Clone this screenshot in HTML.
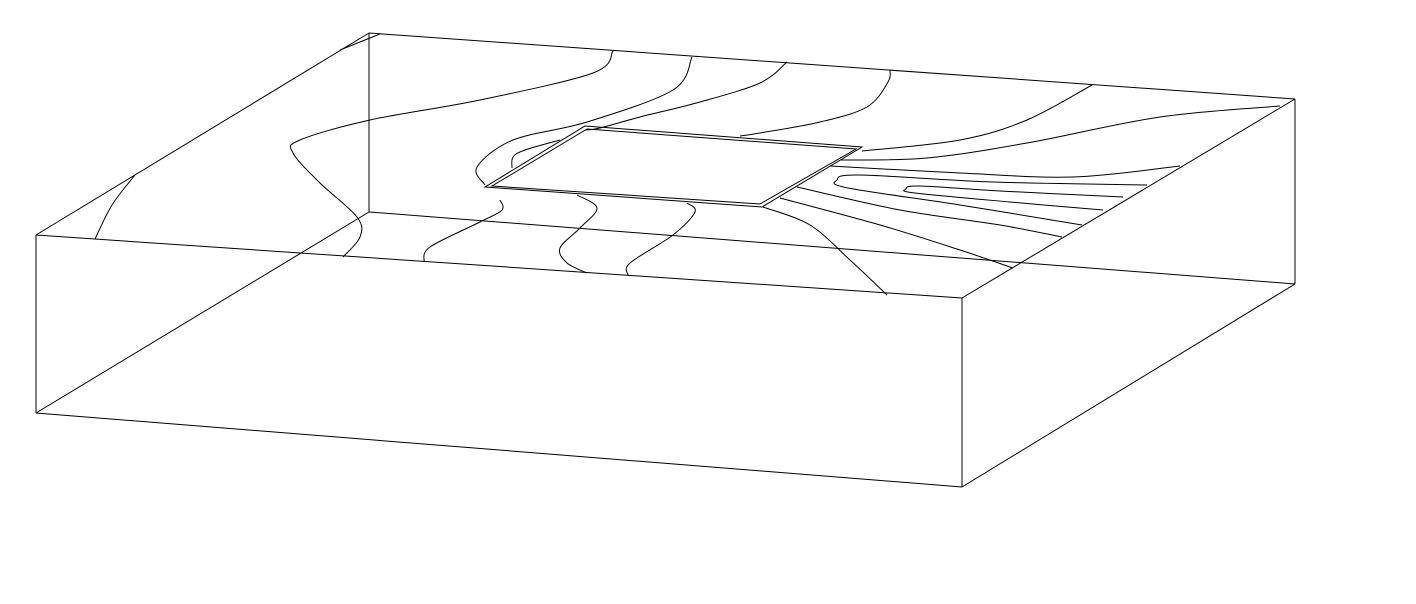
<!DOCTYPE html>
<html><head><meta charset="utf-8"><style>
html,body{margin:0;padding:0;background:#fff;}
svg{display:block;}
</style></head><body>
<svg width="1416" height="604" viewBox="0 0 1416 604">
<g id="box" stroke="#000" stroke-width="1" fill="none"></g>
<g id="plate" stroke="#000" stroke-width="1" fill="none"></g>
<g id="contours" stroke="#000" stroke-width="1" fill="none"></g>
</svg>
<script>
const boxEdges = [
 [[36,235],[369,33]],[[369,33],[1295,99]],[[1295,99],[962,298]],[[962,298],[36,235]],
 [[36,235],[36,413]],[[962,298],[962,487]],[[1295,99],[1295,284]],[[369,33],[369,212]],
 [[36,413],[962,487]],[[962,487],[1295,284]],[[36,413],[369,212]],[[369,212],[1295,284]],
 [[340,50],[380,34]]
];
const plateOuter = [[585,126],[862,147],[762,207],[485,187]];
const plateInner = [[587,129],[856,149],[760,204],[492,186]];
const contourLines = [
 [[95,239],[112,205],[135,175]],
 [[613,51],[593,73],[480,100],[370,120],[300,140],[293,153],[320,183],[357,217],[360,237],[343,257]],
 [[692,57],[673,90],[587,122],[513,140],[477,167],[485,185]],
 [[500,200],[502,210],[480,222],[430,247],[424,262]],
 [[787,62],[760,83],[700,102],[640,117],[600,128],[585,130]],
 [[560,140],[525,150],[513,157],[512,168]],
 [[577,195],[597,208],[580,228],[560,248],[567,263],[587,273]],
 [[687,203],[695,212],[673,235],[630,263],[628,275]],
 [[890,70],[888,82],[867,107],[820,122],[760,133],[740,136]],
 [[1092,85],[1027,120],[960,140],[862,151]],
 [[1280,106],[1160,117],[1027,143],[927,158],[840,160]],
 [[830,166],[960,173],[1073,177],[1180,166]],
 [[1147,185],[993,182],[860,175],[837,180],[848,188],[960,205],[1082,225]],
 [[1123,197],[1000,191],[920,186],[906,189],[915,193],[1010,202],[1103,210]],
 [[797,187],[900,210],[1000,225],[1062,237]],
 [[780,198],[880,225],[960,250],[1013,268]],
 [[763,207],[810,225],[850,260],[887,295]]
];
const NS='http://www.w3.org/2000/svg';
function smooth(p){
 let d='M'+p[0][0]+','+p[0][1];
 for(let i=0;i<p.length-1;i++){
  const p0=p[i-1]||p[i],p1=p[i],p2=p[i+1],p3=p[i+2]||p2;
  const c1=[p1[0]+(p2[0]-p0[0])/6,p1[1]+(p2[1]-p0[1])/6];
  const c2=[p2[0]-(p3[0]-p1[0])/6,p2[1]-(p3[1]-p1[1])/6];
  d+=' C'+c1.join(',')+' '+c2.join(',')+' '+p2.join(',');
 }
 return d;
}
const box=document.getElementById('box');
boxEdges.forEach(e=>{
 const l=document.createElementNS(NS,'line');
 l.setAttribute('x1',e[0][0]);l.setAttribute('y1',e[0][1]);
 l.setAttribute('x2',e[1][0]);l.setAttribute('y2',e[1][1]);
 
 
 box.appendChild(l);
});
const plate=document.getElementById('plate');
[plateOuter,plateInner].forEach(pp=>{
 const pg=document.createElementNS(NS,'polygon');
 pg.setAttribute('points',pp.map(q=>q.join(',')).join(' '));
 
 
 plate.appendChild(pg);
});
const cg=document.getElementById('contours');
contourLines.forEach(c=>{
 const p=document.createElementNS(NS,'path');
 p.setAttribute('d',smooth(c));
 
 
 cg.appendChild(p);
});
</script>
</body></html>
